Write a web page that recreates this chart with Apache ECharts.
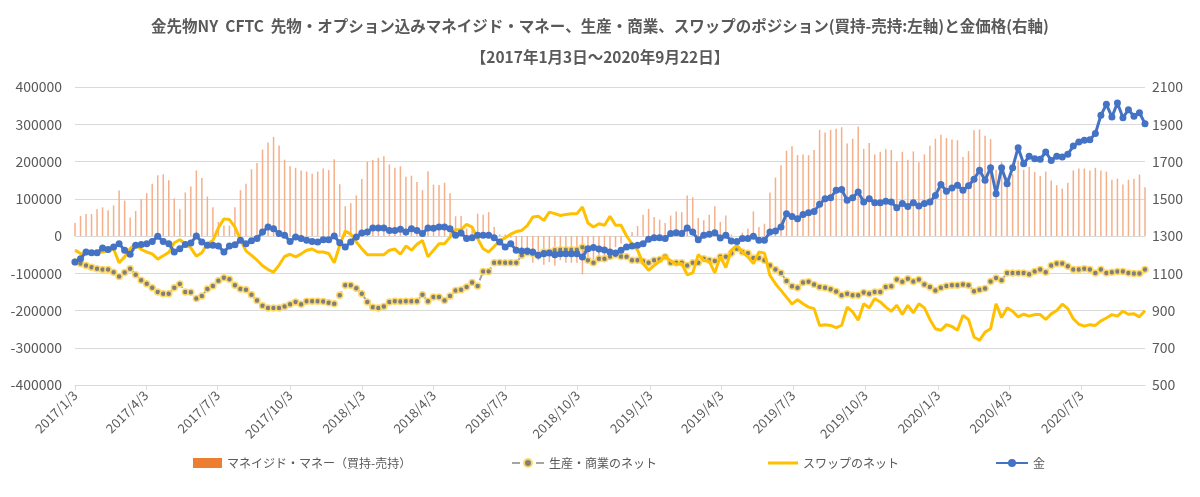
<!DOCTYPE html>
<html>
<head>
<meta charset="utf-8">
<script src="https://cdn.jsdelivr.net/npm/echarts@6/dist/echarts.min.js"></script>
<style>
html,body{margin:0;padding:0;background:#ffffff;}
#chart{width:1200px;height:497px;}
</style>
</head>
<body>
<div id="chart"></div>
<script>
// ---------- DATA ----------
const titleLine1 = '金先物NY  CFTC  先物・オプション込みマネイジド・マネー、生産・商業、スワップのポジション(買持-売持:左軸)と金価格(右軸)';
const titleLine2 = '【2017年1月3日～2020年9月22日】';

const seriesNames = ['マネイジド・マネー（買持-売持）', '生産・商業のネット', 'スワップのネット', '金'];

// weekly reports (Tuesdays) starting 2017/1/3, 195 weeks up to 2020/9/22
const firstWeek = '2017/1/3';
const weekCount = 195;

const tickLabels = ['2017/1/3','2017/4/3','2017/7/3','2017/10/3','2018/1/3','2018/4/3','2018/7/3','2018/10/3',
  '2019/1/3','2019/4/3','2019/7/3','2019/10/3','2020/1/3','2020/4/3','2020/7/3'];

const UNIT = 1000; // position values below are in thousands of contracts

// Managed money net (long - short)
const managedMoney = [
  35,54,59,59,72,77,69,82,122,95,
  50,67,99,115,140,163,166,150,101,72,
  117,133,176,156,106,77,38,28,28,77,
  123,140,179,196,232,251,266,243,205,187,
  183,176,173,167,173,181,177,206,139,80,
  88,109,153,199,204,210,214,192,183,
  187,159,162,145,123,174,138,137,143,115,
  53,54,20,25,60,57,64,24,4,4,
  -5,-30,-45,-52,-72,-65,-77,-70,-79,-65,
  -72,-72,-72,-103,-60,-65,-56,-60,-50,-30,
  -20,-5,
  11,27,57,73,51,44,35,55,66,64,
  109,104,48,42,57,80,38,55,4,0,
  9,20,66,24,33,117,157,190,229,241,
  217,219,217,231,285,278,285,288,292,248,
  261,294,234,250,219,226,233,231,200,226,
  205,227,198,219,242,261,272,263,259,257,
  212,228,284,
  286,269,260,178,199,158,166,203,178,185,
  172,161,173,149,136,127,143,176,181,181,
  176,183,176,173,151,154,138,151,154,165,
  131
];

// Producer / merchant net
const producerNet = [
  -70,-74,-79,-84,-88,-90,-90,-97,-109,-98,
  -88,-104,-119,-128,-139,-150,-155,-155,-139,-129,
  -150,-151,-168,-161,-142,-134,-120,-112,-116,-132,
  -142,-144,-158,
  -173,-187,-193,-193,-193,-189,-183,-177,-183,-175,
  -175,-175,-176,-179,-182,-159,-132,-132,-140,-155,
  -177,-191,-193,-189,-177,-175,-176,-175,-175,-175,
  -158,-175,-164,
  -164,-173,-161,-146,-144,-137,-125,-134,-95,-95,
  -72,-71,-72,-72,-72,-52,-45,-47,-50,-43,
  -43,-38,-37,-37,-37,-37,-30,-65,-72,-61,
  -61,
  -55,-50,-55,-56,-65,-65,-68,-72,-65,-63,
  -56,-72,-72,-72,-79,-72,-72,-61,-65,-67,
  -56,-56,-46,-34,-43,-46,-59,-59,-65,-79,
  -90,-99,-121,-135,
  -139,-125,-123,-130,-137,-139,-143,-149,-159,-155,
  -159,-159,-152,-155,-150,-150,-137,-135,-117,-123,
  -115,-122,-117,-130,-137,-146,-139,-134,-132,-132,
  -130,-132,-148,
  -144,-141,-122,-113,-119,-99,-99,-99,-99,-103,
  -95,-90,-97,-79,-74,-74,-81,-90,-90,-88,
  -90,-99,-90,-99,-97,-95,-95,-99,-101,-101,
  -90
];

// Swap dealer net
const swapNet = [
  -38,-47,-48,-45,-44,-43,-40,-35,-72,-56,
  -34,-21,-36,-43,-48,-62,-53,-44,-18,-10,
  -21,-32,-54,-45,-20,-12,22,46,44,24,
  -10,-40,-52,
  -65,-80,-90,-97,-78,-55,-49,-56,-48,-38,
  -35,-43,-43,-47,-72,-25,13,5,-16,-34,
  -50,-50,-50,-50,-38,-35,-49,-27,-38,-22,
  -12,-56,-38,
  -21,-21,-3,17,17,31,24,-7,-34,-43,
  -28,-13,-5,5,12,15,28,51,53,42,
  64,60,55,58,60,60,78,35,24,33,
  29,
  53,29,29,0,-21,-38,-74,-92,-79,-68,
  -55,-67,-76,-74,-104,-99,-50,-65,-68,-99,
  -55,-85,-38,-25,-43,-56,-74,-43,-46,-106,
  -128,-146,-164,-183,
  -171,-182,-191,-195,-240,-238,-240,-246,-240,-191,
  -204,-226,-182,-193,-168,-177,-191,-202,-186,-211,
  -186,-206,-182,-193,-224,-249,-253,-238,-243,-253,
  -213,-224,-271,
  -280,-258,-249,-182,-219,-193,-202,-217,-210,-215,
  -211,-211,-224,-209,-200,-183,-195,-222,-237,-242,
  -238,-240,-228,-220,-211,-215,-202,-210,-209,-217,
  -200
];

// Gold price (right axis)
const goldPrice = [
  1160,1178,1214,1210,1210,1236,1228,1241,1259,1223,
  1202,1250,1255,1259,1271,1298,1271,1259,1214,1232,
  1255,1262,1300,1268,1250,1250,1246,1214,1246,1253,
  1277,1259,1275,
  1286,1321,1348,1339,1313,1304,1271,1295,1286,1277,
  1271,1268,1280,1280,1300,1264,1241,1268,1295,1316,
  1321,1343,1343,1343,1330,1330,1336,1321,1339,1330,
  1313,1343,1342,
  1348,1348,1339,1304,1316,1286,1291,1304,1304,1304,
  1291,1268,1241,1259,1223,1219,1219,1214,1196,1205,
  1209,1200,1205,1205,1205,1205,1187,1232,1238,1230,
  1225,
  1214,1209,1223,1241,1246,1250,1259,1282,1291,1291,
  1286,1313,1318,1313,1343,1321,1280,1304,1309,1318,
  1289,1304,1273,1271,1286,1286,1298,1277,1277,1321,
  1327,1348,1420,1405,
  1393,1415,1425,1432,1470,1500,1506,1545,1549,1492,
  1506,1536,1483,1500,1479,1479,1486,1483,1452,1474,
  1459,1479,1461,1474,1483,1518,1577,1540,1558,1572,
  1545,1570,1605,
  1653,1599,1667,1527,1667,1581,1667,1774,1688,1728,
  1715,1712,1751,1706,1728,1724,1739,1783,1805,1814,
  1817,1850,1948,2007,1939,2014,1935,1978,1943,1962,
  1903
];

// ---------- BUILD ----------
const DAY = 86400000;
function parseYMD(s){ const p = s.split('/').map(Number); return Date.UTC(p[0], p[1]-1, p[2]); }
const t0 = parseYMD(firstWeek);
const dayOf = s => Math.round((parseYMD(s) - t0) / DAY);
function fmtDay(off){ const d = new Date(t0 + Math.round(off) * DAY); return d.getUTCFullYear() + '/' + (d.getUTCMonth()+1) + '/' + d.getUTCDate(); }

const weekDays = [];
for (let i = 0; i < weekCount; i++) weekDays.push(7 * i);

const pair = (arr, k) => arr.map((v, i) => [weekDays[i], v * k]);
const tickDays = tickLabels.map(dayOf);

const grey = '#595959';
const font = '"Noto Sans CJK JP", "Noto Sans", sans-serif';

const chart = echarts.init(document.getElementById('chart'), null, {renderer: 'canvas'});
chart.setOption({
  animation: false,
  backgroundColor: '#ffffff',
  textStyle: {fontFamily: font},
  title: {
    text: titleLine1 + '\n' + titleLine2,
    left: 'center', top: 6,
    textStyle: {fontSize: 15.5, fontWeight: 'bold', color: grey, lineHeight: 31, fontFamily: font}
  },
  legend: [
    {left: 188, top: 452, itemWidth: 29, itemHeight: 10, textStyle: {fontSize: 12, color: grey},
     data: [{name: seriesNames[0], icon: 'rect', itemStyle: {color: '#ED7D31', opacity: 1}}]},
    {left: 506, top: 452, itemWidth: 32, itemHeight: 10, textStyle: {fontSize: 12, color: grey},
     data: [seriesNames[1]]},
    {left: 763, top: 452, itemWidth: 30, itemHeight: 3, textStyle: {fontSize: 12, color: grey},
     data: [{name: seriesNames[2], icon: 'rect'}]},
    {left: 990, top: 452, itemWidth: 32, itemHeight: 10, textStyle: {fontSize: 12, color: grey},
     data: [seriesNames[3]]}
  ],
  grid: {left: 75, right: 55, top: 87, bottom: 112, containLabel: false},
  xAxis: {
    type: 'value',
    min: weekDays[0], max: weekDays[weekDays.length-1],
    axisLine: {onZero: false, lineStyle: {color: '#D9D9D9', width: 1}},
    axisTick: {show: true, length: 5, lineStyle: {color: '#D9D9D9'}, customValues: tickDays},
    axisLabel: {customValues: tickDays, rotate: 45, fontSize: 13, color: grey, margin: 8,
      formatter: v => fmtDay(v), hideOverlap: false, showMinLabel: true, showMaxLabel: true},
    splitLine: {show: false}
  },
  yAxis: [
    {type: 'value', min: -400000, max: 400000, interval: 100000,
     axisLine: {show: false}, axisTick: {show: false},
     axisLabel: {fontSize: 14, color: grey, margin: 13, formatter: v => String(v)},
     splitLine: {lineStyle: {color: '#D9D9D9', width: 1}}},
    {type: 'value', min: 500, max: 2100, interval: 200, position: 'right',
     axisLine: {show: false}, axisTick: {show: false},
     axisLabel: {fontSize: 14, color: grey, margin: 7, formatter: v => String(v)},
     splitLine: {show: false}}
  ],
  series: [
    {name: seriesNames[0], type: 'bar', yAxisIndex: 0, barWidth: 1.5,
     itemStyle: {color: '#F4B08A'}, data: pair(managedMoney, UNIT), z: 1},
    {name: seriesNames[1], type: 'line', yAxisIndex: 0, symbol: 'circle', symbolSize: 6, showAllSymbol: true,
     lineStyle: {color: '#A5A5A5', width: 2, type: 'dashed'},
     itemStyle: {color: '#7F7F7F', borderColor: '#FFD966', borderWidth: 1.5},
     data: pair(producerNet, UNIT), z: 2},
    {name: seriesNames[2], type: 'line', yAxisIndex: 0, symbol: 'none', showSymbol: false,
     lineStyle: {color: '#FFC000', width: 3}, itemStyle: {color: '#FFC000'},
     data: pair(swapNet, UNIT), z: 3},
    {name: seriesNames[3], type: 'line', yAxisIndex: 1, symbol: 'circle', symbolSize: 7, showAllSymbol: true,
     lineStyle: {color: '#4472C4', width: 3}, itemStyle: {color: '#4472C4'},
     data: pair(goldPrice, 1), z: 4}
  ]
});
</script>
</body>
</html>
